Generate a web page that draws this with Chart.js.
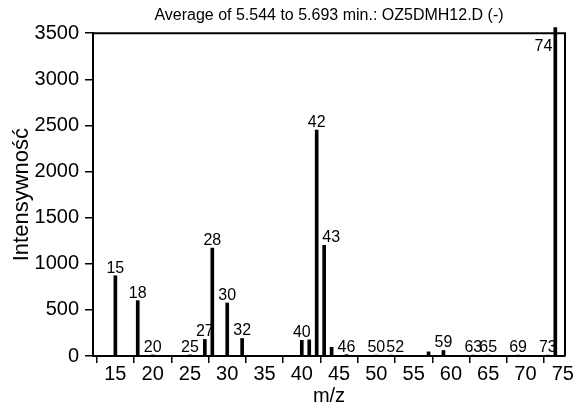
<!DOCTYPE html>
<html>
<head>
<meta charset="utf-8">
<script src="https://cdn.jsdelivr.net/npm/chart.js@4.4.1/dist/chart.umd.min.js"></script>
<style>
  html, body { margin: 0; padding: 0; background: #fff; }
  #wrap { width: 577px; height: 406px; }
</style>
</head>
<body>
<div id="wrap"><canvas id="spectrum"></canvas></div>
<script>
// mass spectrum peaks (m/z and abundance)
const mz = [15, 18, 20, 25, 27, 28, 30, 32, 40, 41, 42, 43, 44, 46, 50, 52, 57, 59, 63, 65, 69, 73, 74];
const abundance = [870, 600, 12, 12, 180, 1170, 575, 190, 170, 175, 2450, 1200, 95, 15, 10, 10, 45, 60, 10, 10, 10, 10, 3560];
const labelled = [15, 18, 20, 25, 27, 28, 30, 32, 40, 42, 43, 46, 50, 52, 59, 63, 65, 69, 73, 74];
const xTicks = [15, 20, 25, 30, 35, 40, 45, 50, 55, 60, 65, 70, 75];
const yTicks = [0, 500, 1000, 1500, 2000, 2500, 3000, 3500];

const FONT = '"Liberation Sans", Arial, sans-serif';

// small nudges so neighbouring peak labels don't collide
const labelShift = { 43: 7, 52: 4 };

const peakLabels = {
  id: 'peakLabels',
  afterDatasetsDraw(chart) {
    const ctx = chart.ctx;
    const meta = chart.getDatasetMeta(0);
    ctx.save();
    ctx.fillStyle = '#000';
    ctx.font = '16px ' + FONT;
    meta.data.forEach((bar, i) => {
      const m = mz[i];
      if (!labelled.includes(m)) return;
      if (bar.y < chart.chartArea.top) {
        // tallest peak: label sits beside the bar inside the frame
        ctx.textAlign = 'right';
        ctx.textBaseline = 'top';
        ctx.fillText(String(m), bar.x - 3, chart.chartArea.top + 5);
      } else {
        ctx.textAlign = 'center';
        ctx.textBaseline = 'alphabetic';
        ctx.fillText(String(m), bar.x + (labelShift[m] || 0), bar.y - 3);
      }
    });
    ctx.restore();
  }
};

const frame = {
  id: 'frame',
  afterDraw(chart) {
    const { ctx, chartArea: a } = chart;
    ctx.save();
    ctx.strokeStyle = '#000';
    ctx.lineWidth = 2;
    ctx.beginPath();
    ctx.moveTo(a.left, a.top);
    ctx.lineTo(a.right, a.top);
    ctx.lineTo(a.right, a.bottom);
    ctx.stroke();
    // y axis title, centred on the plot height
    ctx.translate(28, (a.top + a.bottom) / 2);
    ctx.rotate(-Math.PI / 2);
    ctx.font = '22px ' + FONT;
    ctx.fillStyle = '#000';
    ctx.textAlign = 'center';
    ctx.textBaseline = 'alphabetic';
    ctx.fillText('Intensywność', 0, 0);
    ctx.restore();
  }
};

new Chart(document.getElementById('spectrum'), {
  type: 'bar',
  data: {
    datasets: [{
      data: mz.map((m, i) => ({ x: m, y: abundance[i] })),
      backgroundColor: '#000',
      barThickness: 3,
      clip: false
    }]
  },
  options: {
    responsive: true,
    maintainAspectRatio: false,
    animation: false,
    layout: { padding: { right: 12, bottom: 0 } },
    plugins: {
      legend: { display: false },
      tooltip: { enabled: false },
      title: {
        display: true,
        fullSize: false,
        text: 'Average of 5.544 to 5.693 min.: OZ5DMH12.D (-)',
        color: '#000',
        font: { family: FONT, size: 16, weight: 'normal', lineHeight: 1.2 },
        padding: { top: 6, bottom: 8 }
      }
    },
    scales: {
      x: {
        type: 'linear',
        offset: false,
        min: 12,
        max: 75.3,
        afterBuildTicks: s => { s.ticks = xTicks.map(v => ({ value: v })); },
        afterFit: s => { s.height = 50; },
        ticks: {
          color: '#000',
          font: { family: FONT, size: 20, lineHeight: 1 },
          padding: 1,
          maxRotation: 0,
          autoSkip: false
        },
        grid: { drawOnChartArea: false, color: '#000', lineWidth: 1.5, tickLength: 7 },
        border: { color: '#000', width: 2 },
        title: {
          display: true,
          text: 'm/z',
          color: '#000',
          font: { family: FONT, size: 20, lineHeight: 1 },
          padding: { top: 2, bottom: 0 }
        }
      },
      y: {
        min: 0,
        max: 3500,
        afterBuildTicks: s => { s.ticks = yTicks.map(v => ({ value: v })); },
        afterFit: s => { s.width = 93; },
        ticks: {
          color: '#000',
          font: { family: FONT, size: 20, lineHeight: 1 },
          padding: 6,
          callback: v => String(v)
        },
        grid: { drawOnChartArea: false, color: '#000', lineWidth: 1.5, tickLength: 8 },
        border: { color: '#000', width: 2 }
      }
    }
  },
  plugins: [peakLabels, frame]
});
</script>
</body>
</html>
